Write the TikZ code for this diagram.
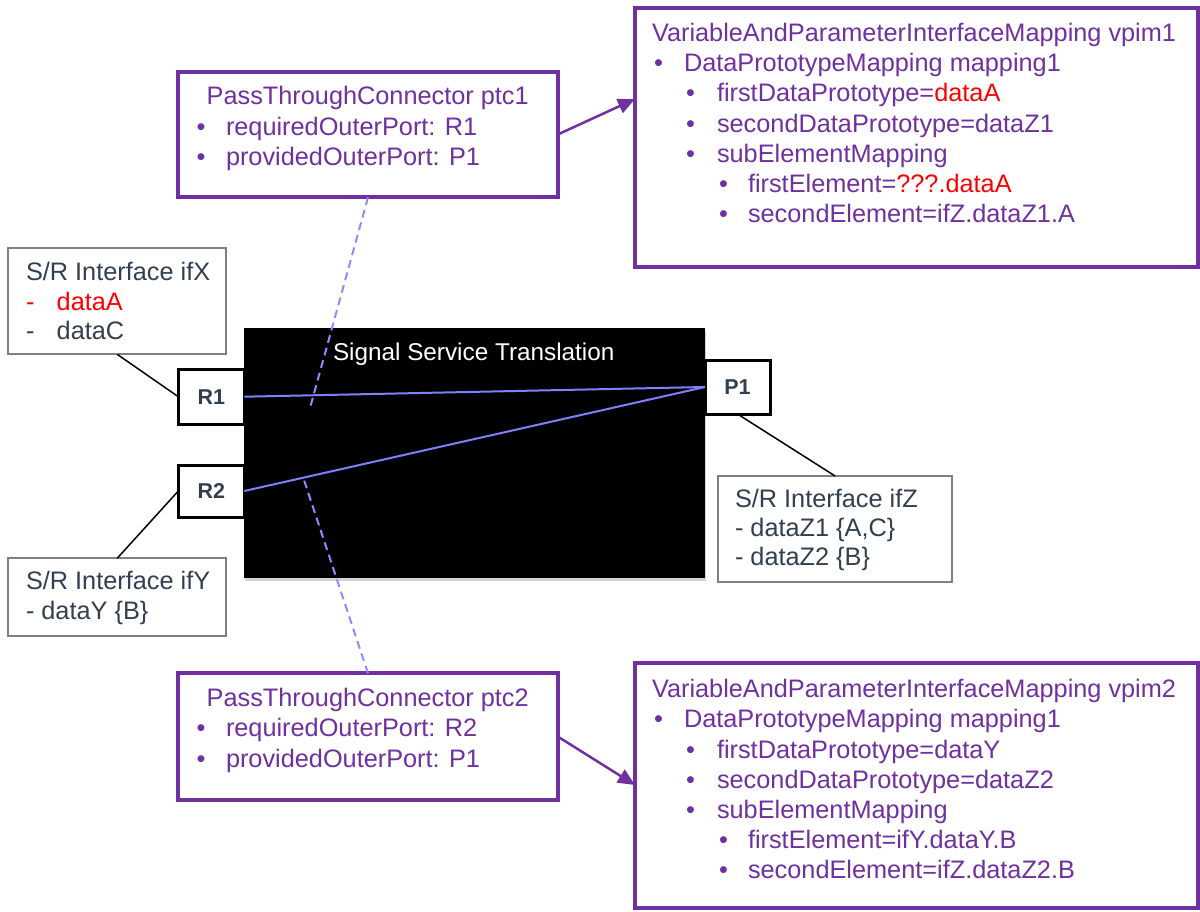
\documentclass[tikz,border=0pt]{standalone}
\usepackage{fontspec}
\setmainfont{Liberation Sans}
\usetikzlibrary{arrows.meta,calc,shadows}
\definecolor{vpurple}{HTML}{7030A0}
\definecolor{slate}{HTML}{333F50}
\definecolor{periw}{RGB}{128,128,255}
\definecolor{periwd}{RGB}{140,140,255}
\definecolor{boxgray}{HTML}{808080}
\definecolor{hotred}{HTML}{FF0000}
\begin{document}
\begin{tikzpicture}[x=1pt,y=-1pt,
  box/.style={rectangle, inner sep=0pt, outer sep=0pt},
  pbox/.style={box, draw=vpurple, line width=4pt, fill=white},
  gbox/.style={box, draw=boxgray, line width=1.8pt, fill=white},
  portbox/.style={box, draw=black, line width=3pt, fill=white, text=slate,
    font=\bfseries\fontsize{21.5}{26}\selectfont},
  txt/.style={anchor=base west, inner sep=0pt, outer sep=0pt, font=\fontsize{25.3}{30}\selectfont},
  ptxt/.style={txt, text=vpurple},
  stxt/.style={txt, text=slate},
  conn/.style={draw=black, line width=1.5pt},
  sig/.style={draw=periw, line width=2pt},
  dsig/.style={draw=periwd, line width=2pt, dash pattern=on 8pt off 5pt},
  arr/.style={draw=vpurple, line width=2.5pt, -{Triangle[length=17pt,width=15pt]}}
]
\useasboundingbox (0,0) rectangle (1200,911);

% main black block
\node[box, fill=black, minimum width=461pt, minimum height=250pt,
  drop shadow={shadow xshift=1pt, shadow yshift=-3pt, opacity=0.35}] (sst) at (474.5,453) {};
\node[txt, text=white, font=\fontsize{24.3}{29}\selectfont] (sstl) at (333,360.5) {Signal Service Translation};

% ports
\node[portbox, minimum width=66pt, minimum height=54.7pt] (R1) at (211.3,396.7) {R1};
\node[portbox, minimum width=66pt, minimum height=52pt] (R2) at (211.3,491) {R2};
\node[portbox, minimum width=65pt, minimum height=54pt] (P1) at (737.5,387) {P1};

% interface boxes
\node[gbox, minimum width=217.7pt, minimum height=106pt] (ifX) at (117.2,301.3) {};
\node[stxt] (ifXt) at (26,280) {S/R Interface ifX};
\node[txt, text=hotred] (ifXd1) at (26,310) {-};
\node[txt, text=hotred] (ifXa) at (56.7,310) {dataA};
\node[stxt] (ifXd2) at (26,339.5) {-};
\node[stxt] (ifXc) at (56.7,339.5) {dataC};

\node[gbox, minimum width=217.7pt, minimum height=78pt] (ifY) at (117.2,597.3) {};
\node[stxt] (ifYt) at (26,589.5) {S/R Interface ifY};
\node[stxt] (ifYa) at (26,619.5) {- dataY \{B\}};

\node[gbox, minimum width=234pt, minimum height=105.7pt] (ifZ) at (835,528.8) {};
\node[stxt] (ifZt) at (735,507.3) {S/R Interface ifZ};
\node[stxt] (ifZa) at (735,536.7) {- dataZ1 \{A,C\}};
\node[stxt] (ifZb) at (735,565.5) {- dataZ2 \{B\}};

% interface connectors
\draw[conn] (ifX.south) -- (R1.west);
\draw[conn] (ifY.north) -- (R2.west);
\draw[conn] (P1.south) -- (ifZ.north);

% signal lines
\draw[sig] (R1.east) -- (P1.west);
\draw[sig] (R2.east) -- (P1.west);

% pass-through connectors
\node[pbox, minimum width=379.5pt, minimum height=125.6pt] (ptc1) at (368,134.5) {};
\node[ptxt] (p1t) at (206.7,104) {PassThroughConnector ptc1};
\node[ptxt] (p1b1) at (196.7,135) {•};
\node[ptxt] (p1l1) at (226,135) {requiredOuterPort: R1};
\node[ptxt] (p1b2) at (196.7,165.5) {•};
\node[ptxt] (p1l2) at (226,165.5) {providedOuterPort: P1};

\node[pbox, minimum width=380pt, minimum height=126.7pt] (ptc2) at (368,736.7) {};
\node[ptxt] (p2t) at (206.7,706) {PassThroughConnector ptc2};
\node[ptxt] (p2b1) at (196.7,736.7) {•};
\node[ptxt] (p2l1) at (226,736.7) {requiredOuterPort: R2};
\node[ptxt] (p2b2) at (196.7,767) {•};
\node[ptxt] (p2l2) at (226,767) {providedOuterPort: P1};

\coordinate (d1end) at (310,408);
\coordinate (d2end) at (304,480);
\draw[dsig] (ptc1.south) -- (d1end);
\draw[dsig] (ptc2.north) -- (d2end);

% mapping boxes
\node[pbox, minimum width=563pt, minimum height=259pt] (vpim1) at (916.5,137.5) {};
\node[ptxt] (v1t) at (652,41) {VariableAndParameterInterfaceMapping vpim1};
\node[ptxt] (v1b1) at (654,71) {•};
\node[ptxt] (v1l1) at (684,71) {DataPrototypeMapping mapping1};
\node[ptxt] (v1b2) at (686,101.5) {•};
\node[ptxt] (v1l2) at (717,101.5) {firstDataPrototype=\textcolor{hotred}{dataA}};
\node[ptxt] (v1b3) at (686,132) {•};
\node[ptxt] (v1l3) at (717,132) {secondDataPrototype=dataZ1};
\node[ptxt] (v1b4) at (686,162) {•};
\node[ptxt] (v1l4) at (717,162) {subElementMapping};
\node[ptxt] (v1b5) at (719,192.5) {•};
\node[ptxt] (v1l5) at (748,192.5) {firstElement=\textcolor{hotred}{???.dataA}};
\node[ptxt] (v1b6) at (719,222.5) {•};
\node[ptxt] (v1l6) at (748,222.5) {secondElement=ifZ.dataZ1.A};

\node[pbox, minimum width=563pt, minimum height=245pt] (vpim2) at (916.5,785.5) {};
\node[ptxt] (v2t) at (652,697.3) {VariableAndParameterInterfaceMapping vpim2};
\node[ptxt] (v2b1) at (654,727.5) {•};
\node[ptxt] (v2l1) at (684,727.5) {DataPrototypeMapping mapping1};
\node[ptxt] (v2b2) at (686,758) {•};
\node[ptxt] (v2l2) at (717,758) {firstDataPrototype=dataY};
\node[ptxt] (v2b3) at (686,788) {•};
\node[ptxt] (v2l3) at (717,788) {secondDataPrototype=dataZ2};
\node[ptxt] (v2b4) at (686,818) {•};
\node[ptxt] (v2l4) at (717,818) {subElementMapping};
\node[ptxt] (v2b5) at (719,848.5) {•};
\node[ptxt] (v2l5) at (748,848.5) {firstElement=ifY.dataY.B};
\node[ptxt] (v2b6) at (719,878.5) {•};
\node[ptxt] (v2l6) at (748,878.5) {secondElement=ifZ.dataZ2.B};

% arrows
\draw[arr] (ptc1.east) -- ($(vpim1.north west)+(0,91)$);
\draw[arr] (ptc2.east) -- ($(vpim2.north west)+(0,122)$);
\end{tikzpicture}
\end{document}
